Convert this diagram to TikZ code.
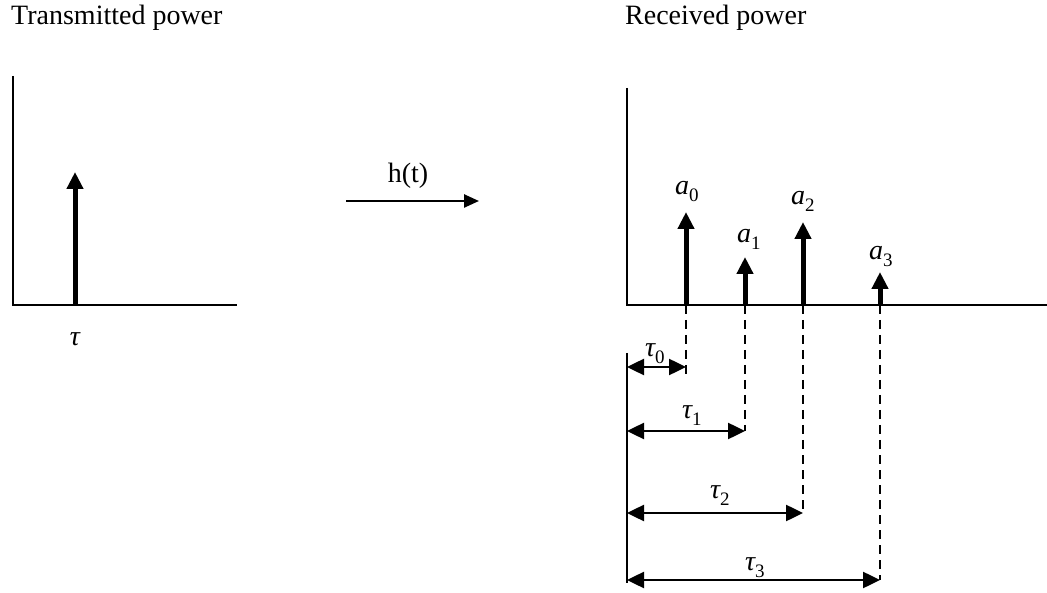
\documentclass[tikz,border=0pt]{standalone}
\usepackage{fontspec}
\setmainfont{Liberation Serif}
\usetikzlibrary{arrows.meta}
\newcommand{\symsub}[2]{{\itshape #1}\raisebox{-7pt}{\fontsize{19}{19}\selectfont #2}}
\tikzset{
  axis/.style={line width=2pt},
  spike/.style={line width=5pt, -{Triangle[width=16pt,length=17pt]}},
  delay/.style={line width=2.5pt, {Triangle[width=16pt,length=17pt]}-{Triangle[width=16pt,length=17pt]}},
  guide/.style={line width=2pt, dash pattern=on 9pt off 6pt},
  lbl/.style={anchor=base west, inner sep=0pt, font=\fontsize{28}{30}\selectfont},
}
\begin{document}
\begin{tikzpicture}[x=1pt, y=-1pt]
  \useasboundingbox (0,0) rectangle (1047,593);
  % 送信側
  \coordinate (O1) at (13,305);
  \coordinate (Y1) at (13,76);
  \coordinate (X1) at (237,305);
  \coordinate (S) at (75,305);
  \coordinate (St) at (75,172);
  \draw[axis] (Y1) -- (O1) -- (X1);
  \draw[spike] (S) -- (St);
  \node[lbl] (ttx) at (11,25) {Transmitted power};
  \node[lbl, anchor=base] (tau) at (75,346) {\itshape τ};
  % チャネル
  \coordinate (H1) at (346,201);
  \coordinate (H2) at (479,201);
  \draw[line width=2.5pt, -{Triangle[width=13pt,length=15pt]}] (H1) -- (H2);
  \node[lbl, anchor=base] (h) at (408,183) {h(t)};
  % 受信側
  \coordinate (O2) at (627,305);
  \coordinate (Y2) at (627,88);
  \coordinate (X2) at (1047,305);
  \draw[axis] (Y2) -- (O2) -- (X2);
  \node[lbl] (trx) at (625,25) {Received power};
  \coordinate (P0) at (686,305);
  \coordinate (P1) at (745,305);
  \coordinate (P2) at (803,305);
  \coordinate (P3) at (880,305);
  \coordinate (T0) at (686,212);
  \coordinate (T1) at (745,257);
  \coordinate (T2) at (803,222);
  \coordinate (T3) at (880,272);
  \draw[spike] (P0) -- (T0);
  \draw[spike] (P1) -- (T1);
  \draw[spike] (P2) -- (T2);
  \draw[spike] (P3) -- (T3);
  \node[lbl] (a0) at (675,195) {\symsub{a}{0}};
  \node[lbl] (a1) at (737,243) {\symsub{a}{1}};
  \node[lbl] (a2) at (791,205) {\symsub{a}{2}};
  \node[lbl] (a3) at (869,260) {\symsub{a}{3}};
  % 遅延
  \coordinate (R) at (627,353);
  \coordinate (Rb) at (627,583);
  \draw[axis] (R) -- (Rb);
  \coordinate (L0) at (627,367);
  \coordinate (L1) at (627,431);
  \coordinate (L2) at (627,513);
  \coordinate (L3) at (627,580);
  \coordinate (D0) at (686,367);
  \coordinate (D1) at (745,431);
  \coordinate (D2) at (803,513);
  \coordinate (D3) at (880,580);
  \draw[guide] (P0) -- (686,375);
  \draw[guide] (P1) -- (D1);
  \draw[guide] (P2) -- (D2);
  \draw[guide] (P3) -- (D3);
  \draw[delay] (L0) -- (D0);
  \draw[delay] (L1) -- (D1);
  \draw[delay] (L2) -- (D2);
  \draw[delay] (L3) -- (D3);
  \node[lbl] (t0) at (645,357) {\symsub{τ}{0}};
  \node[lbl] (t1) at (682,418) {\symsub{τ}{1}};
  \node[lbl] (t2) at (710,498) {\symsub{τ}{2}};
  \node[lbl] (t3) at (745,570) {\symsub{τ}{3}};
\end{tikzpicture}
\end{document}
